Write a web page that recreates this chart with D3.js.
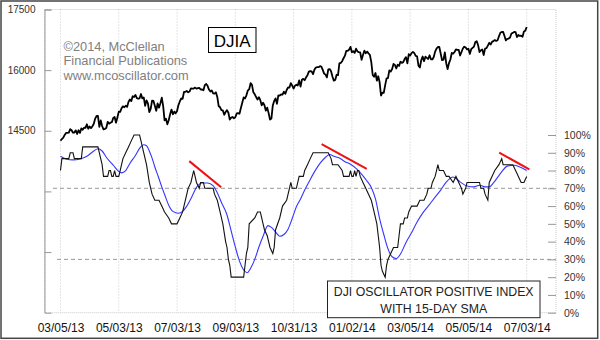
<!DOCTYPE html>
<html><head><meta charset="utf-8">
<script src="https://cdn.jsdelivr.net/npm/d3@7"></script>
<style>
body{margin:0;background:#fff;}
svg{display:block;font-family:"Liberation Sans",Arial,sans-serif;}
</style></head>
<body><svg id="c" width="600" height="340"></svg>
<script>
// ---- data ----
const xTickLabels = ["03/05/13","05/03/13","07/03/13","09/03/13","10/31/13","01/02/14","03/05/14","05/05/14","07/03/14"];
const xTickIdx = [0,42,84,126,168,210,252,294,336];
const djiaTicks = [17500,16000,14500,13000,11500];
const djiaTickLabels = ["17500","16000","14500","",""];
const pctTicks = [0,10,20,30,40,50,60,70,80,90,100];
const pctRefLines = [70,30];

// DJIA daily closes, trading-day index 0 = 03/05/13
const djia = [
14254,14296,14329,14397,14447,14450,14455,14539,14514,14452,14456,14511,14421,14512,14447,14559,14526,14578,
14572,14662,14550,14606,14565,14613,14673,14802,14865,14865,14599,14756,14618,14537,14547,14567,14719,14676,14700,14712,14818,14840,
14700,14831,14973,14969,15056,15105,15082,15118,15091,15215,15275,15233,15354,15335,15387,15307,15294,15303,15409,15302,15324,15116,
15254,15177,14960,15040,15248,15239,15122,14996,15177,15071,15180,15318,15112,14758,14800,14660,14760,14910,15025,14910,
14975,14932,14988,15136,15225,15300,15291,15460,15464,15484,15452,15470,15548,15543,15545,15568,15543,15555,15559,15521,15521,15500,
15628,15658,15612,15519,15471,15498,15425,15419,15452,15337,15112,15081,15010,15003,14897,14964,15010,14946,14777,14825,14840,14810,
14834,14931,14938,14922,15064,15191,15326,15300,15376,15494,15529,15677,15636,15452,15401,15334,15273,15329,15258,15130,
15192,15133,14997,15073,14936,14776,14803,15127,15238,15302,15169,15374,15372,15400,15393,15468,15414,15510,15570,15569,15680,15619,15546,
15616,15639,15619,15747,15594,15762,15784,15751,15822,15876,15962,15976,15968,15900,16010,16065,16073,16073,16098,16086,
16008,15915,15889,15822,16020,16026,15973,15844,15739,15755,15885,15875,16168,16180,16221,16294,16358,16479,16479,16505,16577,
16441,16470,16426,16531,16462,16445,16437,16257,16374,16482,16418,16459,16415,16374,16198,15880,15838,15929,15739,15849,15699,
15373,15445,15441,15629,15795,15801,15995,15964,16027,16154,16130,16041,16133,16104,16208,16180,16199,16273,16322,
16168,16396,16361,16422,16453,16419,16351,16340,16109,16066,16248,16337,16223,16332,16303,16277,16368,16268,16264,16324,16458,
16533,16573,16573,16413,16246,16257,16437,16171,16027,16174,16263,16425,16409,16449,16514,16502,16501,16361,16449,16535,16581,
16559,16513,16531,16402,16518,16551,16584,16695,16716,16614,16447,16492,16512,16375,16533,16543,16606,16676,16633,16699,16717,
16744,16722,16738,16837,16924,16943,16946,16844,16735,16776,16782,16809,16907,16921,16947,16938,16818,16868,16846,16852,16827,
16957,16976,17068];

// Oscillator positive index: [trading-day index, percent] at each change
const osc = [
[0,80],[1,86.7],[6,86.7],[7,90],[9,90],[10,86.7],[15,86.7],[16,93.3],[27,93.3],[28,90],[30,83.3],[31,76.7],[34,76.7],[35,80],[36,80],[37,76.7],[38,76.7],[39,80],[40,76.7],[42,76.7],[43,80],[45,86.7],[47,90],[49,93.3],[51,96.7],[53,100],[57,100],[58,96.7],[60,90],[62,83.3],[64,73.3],[66,66.7],[68,63.3],[71,63.3],[73,60],[75,56.7],[78,53.3],[80,50],[84,50],
[86,53.3],[88,56.7],[90,63.3],[92,70],[94,73.3],[95,76.7],[96,80],[97,76.7],[98,73.3],[100,70],[101,73.3],[103,73.3],[104,70],[110,70],[111,66.7],[113,63.3],[115,56.7],[117,50],[119,40],[120,36.7],[121,30],[122,26.7],[123,20],[132,20],
[133,26.7],[134,33.3],[135,36.7],[136,50],[140,53.3],[142,56.7],[144,56.7],[145,53.3],[146,50],[147,46.7],[149,43.3],[150,40],[151,36.7],[153,33.3],[154,36.7],[155,46.7],[158,53.3],[160,60],[163,63.3],[165,70],[166,73.3],[167,70],[170,70],[172,76.7],[175,76.7],[176,80],[178,83.3],[180,86.7],[182,90],[193,90],
[195,86.7],[196,83.3],[200,83.3],[203,80],[204,76.7],[208,76.7],[209,80],[210,76.7],[211,76.7],[212,80],[213,76.7],[214,80],[215,80],[216,76.7],[218,73.3],[220,70],[222,66.7],[224,63.3],[226,56.7],[228,50],[229,43.3],[230,36.7],[231,26.7],[232,23.3],[234,20],
[235,26.7],[236,30],[238,33.3],[240,36.7],[243,36.7],[244,43.3],[245,50],[247,50],[248,53.3],[250,53.3],[251,56.7],[253,60],[257,60],[259,63.3],[262,63.3],[264,66.7],[265,70],[267,70],[268,73.3],[270,76.7],[271,80],[272,83.3],[273,80],[276,80],[278,76.7],[280,76.7],[283,73.3],[285,76.7],[287,73.3],[289,70],[290,66.7],[292,70],[293,73.3],[295,73.3],[302,73.3],[303,70],[305,70],[306,66.7],[308,63.3],[309,73.3],[311,76.7],[313,80],[316,83.3],[318,86.7],[319,83.3],[326,83.3],[328,80],[330,76.7],[332,73.3],[334,73.3],[336,76.7]
];

// 15-day SMA of the index
const sma = [
[0,88],[4,86.5],[9,86],[14,86.5],[19,88],[24,91],[27,92.3],[30,91],[33,87.5],[38,83],[42,79.5],[44,78.7],[47,80],[50,84],[54,88.5],[57,92.5],[60,94.5],[62,94],[64,91],[66,87],[68,82],[70.5,76.5],[73,70.8],[75.5,65.5],[78,60.5],[81,57],[85,56],[88,57],[91,60],[94.5,65],[98,70.5],[102,73],[106,73],[110,71.5],[113,67.5],[116,62],[120,55],[123,46],[126,37],[129,29],[132,24],[134.5,22.5],[137,25],[140,30],[143,37],[146,43],[149.5,49],[152,48],[155,45.5],[158,43],[161,44],[164,47],[167,53],[170,59.6],[173,64],[176,69],[180,75],[184,80.5],[187,84],[191,87.5],[194,89],[197,88],[201,87],[205,85],[209,83.5],[214,80.5],[218,77],[221,74],[224,70.5],[227,64],[230,53],[233,44],[236,36],[239,31.5],[242,30.5],[245,33],[249,39.5],[253,45],[257,51],[261,56],[265,60],[270,65],[274,69],[278,73.5],[283,76.4],[288,73.6],[293,71.3],[298,70.8],[302,71.7],[306,70.8],[309,70.8],[312,73],[317,78.3],[322,82.5],[327,83],[331,82],[336,80]
];

// red divergence lines: [idx1, pct1, idx2, pct2]
const trendLines = [[92.8,85.3,115.8,70.6],[188.2,94.8,220.7,81],[316.2,90.1,337.9,80.6]];

const copyright = ["\u00A92014, McClellan","Financial Publications","www.mcoscillator.com"];
const titleBox = "DJIA";
const legendLines = ["DJI OSCILLATOR POSITIVE INDEX","WITH 15-DAY SMA"];

// ---- layout ----
const L = 44.5, R = 556, T = 9.5, B = 312.7;
const svg = d3.select("#c");
const x = d3.scaleLinear().domain([0,336]).range([60.5,526.7]);
const yL = d3.scaleLinear().domain([10000,17500]).range([B,T]);
const yR = d3.scaleLinear().domain([0,100]).range([B,135]);

// outer frame
svg.append("rect").attr("x",1).attr("y",1).attr("width",596.7).attr("height",337.3)
  .attr("fill","#fff").attr("stroke","#444").attr("stroke-width",1.5);

// plot frame
svg.append("rect").attr("x",L).attr("y",T).attr("width",R-L).attr("height",B-T)
  .attr("fill","none").attr("stroke","#c8c8c8").attr("stroke-dasharray","1,1");

// vertical gridlines
svg.append("g").selectAll("line").data(xTickIdx).join("line")
  .attr("x1",d=>x(d)).attr("x2",d=>x(d)).attr("y1",T).attr("y2",B)
  .attr("stroke","#c8c8c8").attr("stroke-dasharray","1,2");

// reference dashed lines
svg.append("g").selectAll("line").data(pctRefLines).join("line")
  .attr("x1",d=>d===70?53:57).attr("x2",R).attr("y1",d=>yR(d)).attr("y2",d=>yR(d))
  .attr("stroke","#999").attr("stroke-dasharray","4,3");

// left axis
const gl = svg.append("g").attr("transform",`translate(${L},0)`)
  .call(d3.axisLeft(yL).tickValues(djiaTicks).tickSize(-7).tickPadding(9)
    .tickFormat((d,i)=>djiaTickLabels[i]));
gl.select(".domain").attr("stroke","#999");
gl.selectAll(".tick line").attr("stroke","#999");
gl.selectAll("text").attr("font-size",10).attr("fill","#333").attr("font-family","Liberation Sans, Arial, sans-serif");

// right axis
const gr = svg.append("g").attr("transform",`translate(${R},0)`)
  .call(d3.axisRight(yR).tickValues(pctTicks).tickSize(-8).tickPadding(8).tickFormat(d=>d+"%"));
gr.select(".domain").remove();
gr.selectAll(".tick line").attr("stroke","#999");
gr.selectAll("text").attr("font-size",10.5).attr("fill","#333").attr("font-family","Liberation Sans, Arial, sans-serif");

// bottom axis labels
const gb = svg.append("g").attr("transform",`translate(0,${B})`)
  .call(d3.axisBottom(x).tickValues(xTickIdx).tickSize(0).tickPadding(11)
    .tickFormat((d,i)=>xTickLabels[i]));
gb.select(".domain").remove();
gb.selectAll("text").attr("font-size",12).attr("fill","#111").attr("font-family","Liberation Sans, Arial, sans-serif");

// DJIA line
svg.append("path").datum(djia)
  .attr("d",d3.line().x((d,i)=>x(i)).y(d=>yL(d)))
  .attr("fill","none").attr("stroke","#000").attr("stroke-width",1.8).attr("stroke-linejoin","round");

// SMA (blue)
svg.append("path").datum(sma)
  .attr("d",d3.line().x(d=>x(d[0])).y(d=>yR(d[1])).curve(d3.curveMonotoneX))
  .attr("fill","none").attr("stroke","#3535ff").attr("stroke-width",1.1);

// Oscillator (black)
svg.append("path").datum(osc)
  .attr("d",d3.line().x(d=>x(d[0])).y(d=>yR(d[1])))
  .attr("fill","none").attr("stroke","#111").attr("stroke-width",1.1);

// red trend lines
svg.append("g").selectAll("line").data(trendLines).join("line")
  .attr("x1",d=>x(d[0])).attr("y1",d=>yR(d[1])).attr("x2",d=>x(d[2])).attr("y2",d=>yR(d[3]))
  .attr("stroke","#ee1111").attr("stroke-width",2);

// copyright text
svg.append("g").selectAll("text").data(copyright).join("text")
  .attr("x",63.5).attr("y",(d,i)=>50.5+i*14.8).text(d=>d)
  .attr("font-size",12.8).attr("fill","#808080");

// DJIA box
svg.append("rect").attr("x",208.5).attr("y",27.5).attr("width",47.5).attr("height",25)
  .attr("fill","#fff").attr("stroke","#000").attr("stroke-width",1);
svg.append("text").attr("x",232.2).attr("y",46.5).attr("text-anchor","middle")
  .attr("font-size",17).attr("fill","#000").text(titleBox);

// legend box
svg.append("rect").attr("x",327.5).attr("y",281).attr("width",212.5).attr("height",36.7)
  .attr("fill","#fff").attr("stroke","#222").attr("stroke-width",1);
svg.append("g").selectAll("text").data(legendLines).join("text")
  .attr("x",433.7).attr("y",(d,i)=>295.5+i*17).attr("text-anchor","middle")
  .attr("font-size",12.3).attr("fill","#222").text(d=>d);
</script></body></html>
